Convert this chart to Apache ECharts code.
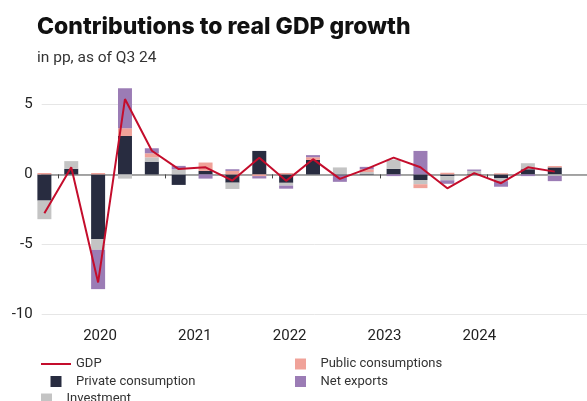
<!DOCTYPE html>
<html>
<head>
<meta charset="utf-8">
<script src="https://cdn.jsdelivr.net/npm/echarts@6/dist/echarts.min.js"></script>
<style>
  html, body { margin: 0; padding: 0; background: #fff; }
  #chart { width: 587px; height: 401px; }
</style>
</head>
<body>
<div id="chart"></div>
<script>
// Quarters Q4 2019 .. Q3 2024
const quarters = [
  '2019-Q4', '2020-Q1', '2020-Q2', '2020-Q3', '2020-Q4',
  '2021-Q1', '2021-Q2', '2021-Q3', '2021-Q4',
  '2022-Q1', '2022-Q2', '2022-Q3', '2022-Q4',
  '2023-Q1', '2023-Q2', '2023-Q3', '2023-Q4',
  '2024-Q1', '2024-Q2', '2024-Q3'
];

// Contributions in percentage points
const privateConsumption = [-1.87, 0.40, -4.63, 2.75, 0.91, -0.75, 0.25, -0.59, 1.68, -0.60, 1.04, -0.08, 0.05, 0.40, -0.40, -0.12, 0.05, -0.28, 0.37, 0.50];
const investment         = [-1.33, 0.55, -0.76, -0.30, 0.31, 0.37, 0.00, -0.45, 0.00, -0.20, 0.00, 0.50, 0.12, 0.66, -0.30, -0.30, 0.20, -0.20, 0.43, -0.10];
const publicConsumption  = [0.10, 0.00, 0.10, 0.55, 0.29, 0.00, 0.60, 0.25, -0.12, 0.10, 0.19, 0.00, 0.20, 0.00, -0.28, 0.12, 0.00, 0.08, 0.00, 0.10];
const netExports         = [0.00, 0.00, -2.81, 2.86, 0.36, 0.24, -0.30, 0.12, -0.17, -0.22, 0.15, -0.45, 0.17, -0.12, 1.68, -0.25, 0.10, -0.40, -0.12, -0.38];
const gdp                = [-2.77, 0.51, -7.72, 5.39, 1.69, 0.38, 0.51, -0.44, 1.20, -0.46, 1.09, -0.32, 0.40, 1.20, 0.51, -0.99, 0.09, -0.63, 0.51, 0.20];

const yearLabels = ['2020', '2021', '2022', '2023', '2024'];
const yTicks = [-10, -5, 0, 5];

// The x scale runs in quarter index units (0 = first quarter).
// Year boundaries fall between Q4 and Q1.
const yearBoundaries = yearLabels.map(y => quarters.indexOf(y + '-Q1') - 0.5);
// Year label anchors
const yearLabelPos = yearLabels.map((_, k) => +(2.07 + 3.53 * k).toFixed(2));

const X_MIN = -0.1, X_MAX = 20.2;
const font = 'Roboto, "Liberation Sans", sans-serif';

const colors = {
  gdp: '#c40d2c',
  priv: '#282c40',
  inv: '#c4c4c4',
  pub: '#f0a299',
  net: '#9b7cb5'
};

// value first, quarter index second: the value dimension is the stacked one
const toPoints = arr => arr.map((v, i) => [v, i]);
const square = 'path://M0,0H10V10H0Z';
const lineIcon = 'path://M0,0H30V2H0Z';

const barSeries = (name, data, color) => ({
  name,
  type: 'bar',
  stack: 'contrib',
  barWidth: 14,
  data: toPoints(data),
  encode: { x: 1, y: 0 },
  itemStyle: { color },
  emphasis: { disabled: true }
});

const legendBase = {
  orient: 'vertical',
  padding: 0,
  itemWidth: 30, itemHeight: 11, itemGap: 3.5,
  textStyle: { fontFamily: font, fontSize: 13, color: '#333', lineHeight: 14 },
  selectedMode: false
};

const chart = echarts.init(document.getElementById('chart'), null, { renderer: 'canvas' });

chart.setOption({
  animation: false,
  backgroundColor: '#ffffff',
  title: [
    {
      text: 'Contributions to real GDP growth',
      left: 37, top: 16, padding: 0,
      textStyle: { fontFamily: 'Inter, sans-serif', fontWeight: 800, fontSize: 23, color: '#111' }
    },
    {
      text: 'in pp, as of Q3 24',
      left: 37, top: 50, padding: 0,
      textStyle: { fontFamily: font, fontWeight: 'normal', fontSize: 15.5, color: '#333' }
    }
  ],
  legend: [
    Object.assign({}, legendBase, {
      left: 41, top: 357,
      data: [
        { name: 'GDP', icon: lineIcon },
        { name: 'Private consumption', icon: square }
      ]
    }),
    Object.assign({}, legendBase, {
      left: 41, top: 392,
      data: [{ name: 'Investment', icon: square }]
    }),
    Object.assign({}, legendBase, {
      left: 295, top: 357,
      data: [
        { name: 'Public consumptions', icon: square },
        { name: 'Net exports', icon: square }
      ]
    })
  ],
  grid: { left: 41.7, right: 0, top: 83.5, bottom: 86.7, containLabel: false },
  xAxis: [
    {
      type: 'value',
      min: X_MIN, max: X_MAX,
      axisLine: { show: true, onZero: true, lineStyle: { color: '#8a8a8a', width: 1.5 } },
      axisTick: { show: true, customValues: yearBoundaries, length: 4, lineStyle: { color: '#444', width: 1 } },
      axisLabel: { show: false },
      splitLine: { show: false }
    },
    {
      type: 'value',
      min: X_MIN, max: X_MAX,
      position: 'bottom',
      axisLine: { show: false, onZero: false },
      axisTick: { show: false },
      splitLine: { show: false },
      axisLabel: {
        show: true,
        customValues: yearLabelPos,
        margin: 14,
        fontFamily: font, fontSize: 15, color: '#222',
        formatter: v => {
          const k = yearLabelPos.findIndex(p => Math.abs(p - v) < 1e-6);
          return k >= 0 ? yearLabels[k] : '';
        }
      }
    }
  ],
  yAxis: {
    type: 'value',
    min: -10, max: 6.5, interval: 5,
    axisLine: { show: false },
    axisTick: { show: false },
    axisLabel: {
      showMaxLabel: false,
      margin: 9,
      fontFamily: font, fontSize: 15, color: '#222',
      formatter: v => (yTicks.includes(v) ? String(v) : '')
    },
    splitLine: { show: true, showMaxLine: false, lineStyle: { color: '#e6e6e6', width: 1 } }
  },
  series: [
    barSeries('Private consumption', privateConsumption, colors.priv),
    barSeries('Investment', investment, colors.inv),
    barSeries('Public consumptions', publicConsumption, colors.pub),
    barSeries('Net exports', netExports, colors.net),
    {
      name: 'GDP',
      type: 'line',
      data: toPoints(gdp),
      encode: { x: 1, y: 0 },
      symbol: 'none',
      z: 5,
      lineStyle: { color: colors.gdp, width: 2 },
      itemStyle: { color: colors.gdp },
      emphasis: { disabled: true }
    }
  ]
});
</script>
</body>
</html>
